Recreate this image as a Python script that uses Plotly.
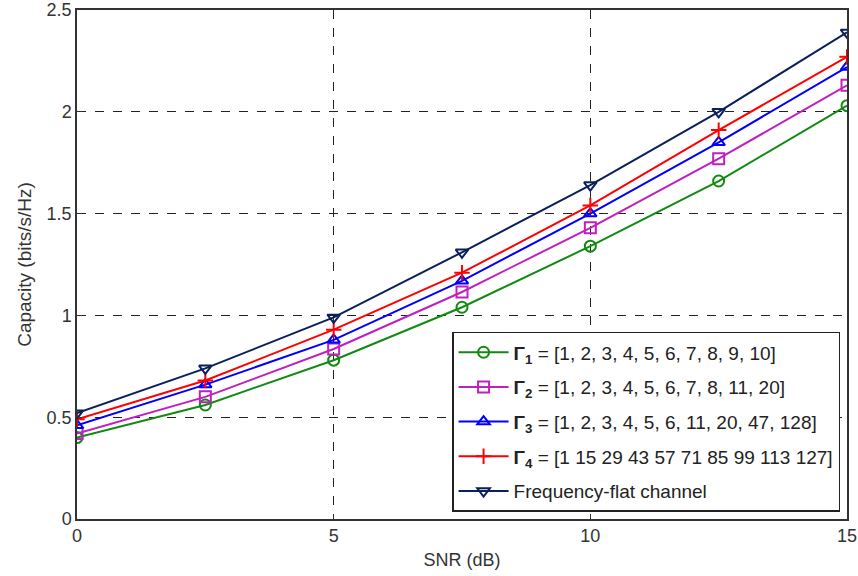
import plotly.graph_objects as go

snr = [0, 2.5, 5, 7.5, 10, 12.5, 15]
gamma1 = [0.40, 0.56, 0.78, 1.04, 1.34, 1.66, 2.03]
gamma2 = [0.42, 0.60, 0.835, 1.115, 1.43, 1.77, 2.13]
gamma3 = [0.46, 0.66, 0.88, 1.17, 1.50, 1.85, 2.22]
gamma4 = [0.49, 0.68, 0.93, 1.21, 1.54, 1.91, 2.27]
flat = [0.52, 0.74, 0.99, 1.31, 1.64, 2.00, 2.39]

names = [
    "<b>Γ<sub>1</sub></b> = [1, 2, 3, 4, 5, 6, 7, 8, 9, 10]",
    "<b>Γ<sub>2</sub></b> = [1, 2, 3, 4, 5, 6, 7, 8, 11, 20]",
    "<b>Γ<sub>3</sub></b> = [1, 2, 3, 4, 5, 6, 11, 20, 47, 128]",
    "<b>Γ<sub>4</sub></b> = [1 15 29 43 57 71 85 99 113 127]",
    "Frequency-flat channel",
]
series = [gamma1, gamma2, gamma3, gamma4, flat]
colors = ["#118a11", "#bf20bf", "#0000ff", "#ff0000", "#0a1f5c"]
symbols = ["circle-open", "square-open", "triangle-up-open", "cross-thin-open", "triangle-down-open"]

FONT = "Arial"

fig = go.Figure()
for i, (n, ys, c, s) in enumerate(zip(names, series, colors, symbols)):
    fig.add_trace(go.Scatter(
        x=snr, y=ys, name=n, mode="lines+markers", legendgroup=f"g{i}",
        line=dict(color=c, width=2),
        marker=dict(symbol=s, size=11, color=c, line=dict(color=c, width=2)),
    ))

axis_common = dict(
    showgrid=True, gridcolor="#222", griddash="dash", gridwidth=1,
    showline=True, linecolor="#333", linewidth=1.5, mirror=True,
    ticks="inside", ticklen=5, tickcolor="#333",
    zeroline=False, automargin=False,
    tickfont=dict(family=FONT, size=18, color="#333"),
)
fig.update_xaxes(range=[0, 15], tickvals=[0, 5, 10, 15], title_text="SNR (dB)",
                 title_font=dict(family=FONT, size=18, color="#333"),
                 title_standoff=8, **axis_common)
fig.update_yaxes(range=[0, 2.5], tickvals=[0, 0.5, 1, 1.5, 2, 2.5],
                 ticktext=["0", "0.5", "1", "1.5", "2", "2.5"],
                 title_font=dict(family=FONT, size=19, color="#333"),
                 title_text="Capacity (bits/s/Hz)", title_standoff=10, **axis_common)

fig.update_layout(
    width=858, height=576,
    margin=dict(l=77, r=11, t=10, b=57),
    plot_bgcolor="white", paper_bgcolor="white",
    font=dict(family=FONT, size=18, color="#222"),
    legend=dict(
        x=0.991, y=0.014, xanchor="right", yanchor="bottom",
        bgcolor="white", bordercolor="#222", borderwidth=1.5,
        font=dict(family=FONT, size=19, color="#222"),
        tracegroupgap=7, itemwidth=50,
    ),
    showlegend=True,
)

fig.write_html("out.html")
